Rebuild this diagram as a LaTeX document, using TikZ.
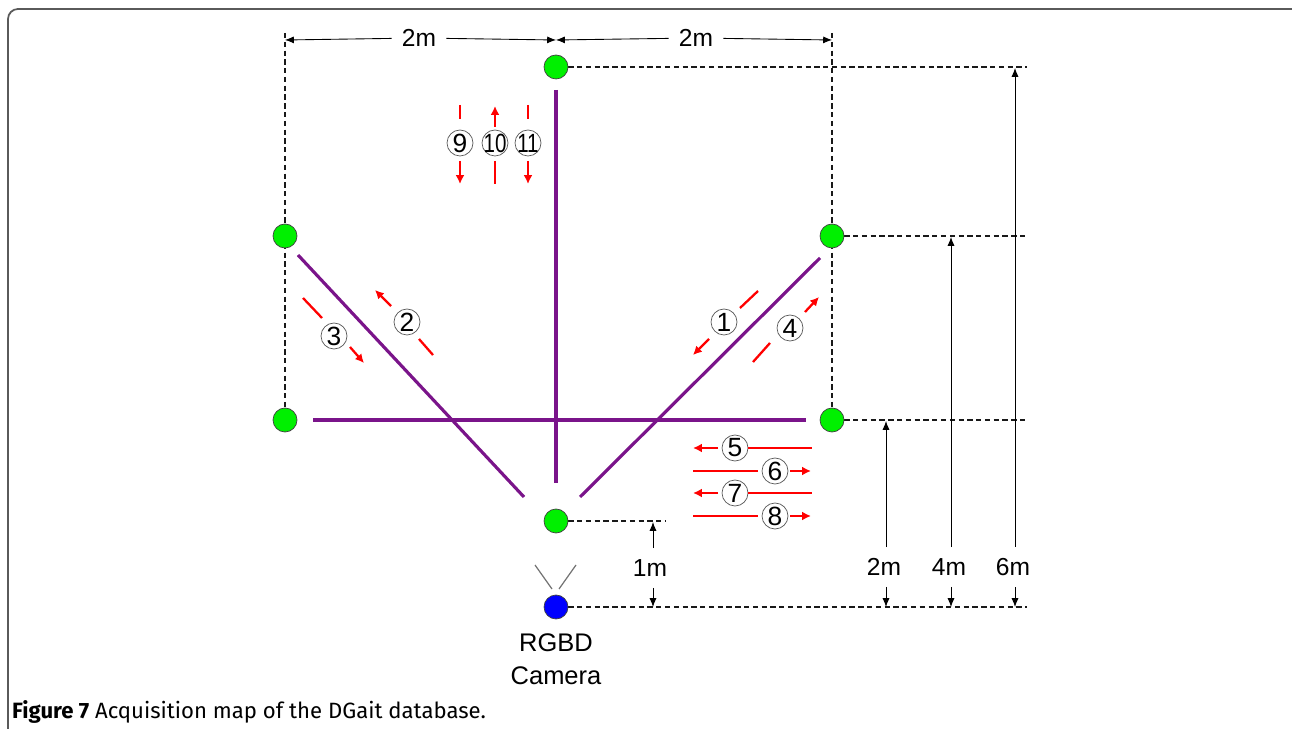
\documentclass[tikz,border=0pt]{standalone}
\usepackage{fontspec}
\setmainfont{Liberation Sans}
\newfontfamily\capfont{Fira Sans}
\usetikzlibrary{arrows.meta,positioning,backgrounds}

\definecolor{spotgreen}{RGB}{0,240,0}
\definecolor{pathpurple}{RGB}{122,20,138}
\definecolor{framegray}{RGB}{90,90,90}

\begin{document}
\begin{tikzpicture}[x=0.02cm,y=-0.02cm]

\pgfdeclarelayer{background}
\pgfsetlayers{background,main}

\tikzstyle{spot} = [circle, draw=black!75, fill=spotgreen, minimum size=0.48cm, inner sep=0pt]
\tikzstyle{walkline} = [draw=pathpurple, line width=1.8pt]
\tikzstyle{guide} = [draw=black!90, line width=0.7pt, dash pattern=on 3pt off 2pt]
\tikzstyle{dim} = [black, line width=0.5pt, -{Latex[length=5pt,width=4pt]}]
\tikzstyle{dimtext} = [font=\fontsize{14}{16}\selectfont, inner xsep=0.2cm, inner ysep=0.22cm]
\tikzstyle{num} = [circle, draw=black!65, fill=white, minimum size=0.52cm, inner sep=0pt, font=\fontsize{15}{15}\selectfont]
\tikzstyle{walk} = [red, line width=1.3pt]
\tikzstyle{walkarrow} = [red, line width=1.3pt, -{Latex[length=5pt,width=5pt]}]

\useasboundingbox (0,0) rectangle (1292,729);

%Frame
\draw[framegray, line width=1pt, rounded corners=0.2cm] (8,740) -- (8,9) -- (1300,9);

%Points of the walk map

\node (top) [spot] at (556,67) {};
\node (left_mid) [spot] at (285,236) {};
\node (right_mid) [spot] at (832,236) {};
\node (left_low) [spot] at (285,420) {};
\node (right_low) [spot] at (832,420) {};
\node (near) [spot] at (556,521) {};
\node (cam) [spot, fill=blue] at (556,607) {};

\path (cam.south)+(0,40) node (cam_text) [align=center, font=\fontsize{14.5}{18.5}\selectfont] {RGBD\\Camera};

%Camera view
\draw[black!55, line width=0.7pt] (535,565) -- (552,589);
\draw[black!55, line width=0.7pt] (576,565) -- (559,589);

%Walk lines

\coordinate (vert_a) at (556,90);
\coordinate (vert_b) at (556,483);
\coordinate (hor_a) at (313,420);
\coordinate (hor_b) at (806,420);
\coordinate (diag_la) at (298,255);
\coordinate (diag_lb) at (524,497);
\coordinate (diag_ra) at (820,258);
\coordinate (diag_rb) at (580,497);

\draw[walkline] (vert_a) -- (vert_b);
\draw[walkline] (hor_a) -- (hor_b);
\draw[walkline] (diag_la) -- (diag_lb);
\draw[walkline] (diag_ra) -- (diag_rb);

%Walks 9, 10, 11: top

\node (w9) [num] at (460,143) {9};
\node (w10) [num] at (495,143) {\makebox[0pt]{\scalebox{0.78}[1]{10}}};
\node (w11) [num] at (528,143) {\makebox[0pt]{\scalebox{0.78}[1]{11}}};

\draw[walk] (w9)+(0,-38) -- +(0,-24);
\draw[walkarrow] (w9)+(0,18) -- +(0,41);
\draw[walkarrow] (w10)+(0,-16) -- +(0,-37);
\draw[walk] (w10)+(0,18) -- +(0,41);
\draw[walk] (w11)+(0,-38) -- +(0,-24);
\draw[walkarrow] (w11)+(0,18) -- +(0,41);

%Walks 2, 3: left diagonal

\node (w2) [num] at (407,322) {2};
\node (w3) [num] at (334,336) {3};

\draw[walkarrow] (w2)+(-16,-16) -- +(-32,-32);
\draw[walk] (w2)+(12,17) -- +(26,33);
\draw[walk] (w3)+(-31,-38) -- +(-12,-18);
\draw[walkarrow] (w3)+(16,11) -- +(30,27);

%Walks 1, 4: right diagonal

\node (w1) [num] at (724,322) {1};
\node (w4) [num] at (790,328) {4};

\draw[walk] (w1)+(16,-14) -- +(34,-31);
\draw[walkarrow] (w1)+(-15,17) -- +(-31,33);
\draw[walkarrow] (w4)+(15,-16) -- +(29,-31);
\draw[walk] (w4)+(-37,34) -- +(-20,15);

%Walks 5 to 8: horizontal

\node (w5) [num] at (735,448) {5};
\node (w6) [num] at (775,471) {6};
\node (w7) [num] at (735,493) {7};
\node (w8) [num] at (775,516) {8};

\draw[walkarrow] (w5)+(-17,0) -- +(-42,0);
\draw[walk] (w5)+(13,0) -- +(77,0);
\draw[walk] (w6)+(-82,0) -- +(-17,0);
\draw[walkarrow] (w6)+(15,0) -- +(36,0);
\draw[walkarrow] (w7)+(-17,0) -- +(-42,0);
\draw[walk] (w7)+(13,0) -- +(77,0);
\draw[walk] (w8)+(-82,0) -- +(-17,0);
\draw[walkarrow] (w8)+(15,0) -- +(36,0);

%Dimensions: top

\coordinate (dim_l) at (285,40);
\coordinate (dim_m) at (556,40);
\coordinate (dim_r) at (832,40);

\node (top_text_l) [dimtext] at (419,38) {2m};
\node (top_text_r) [dimtext] at (696,38) {2m};

\draw[dim] (top_text_l) -- (dim_l);
\draw[dim] (top_text_l) -- (dim_m);
\draw[dim] (top_text_r) -- (dim_m);
\draw[dim] (top_text_r) -- (dim_r);

%Dimensions: right

\coordinate (lvl1) at (653,522);
\coordinate (base1) at (653,607);
\coordinate (lvl2) at (886,421);
\coordinate (base2) at (886,607);
\coordinate (lvl4) at (951,237);
\coordinate (base4) at (951,607);
\coordinate (lvl6) at (1015,68);
\coordinate (base6) at (1015,607);

\node (text1) [dimtext] at (650,568) {1m};
\node (text2) [dimtext] at (884,567) {2m};
\node (text4) [dimtext] at (949,567) {4m};
\node (text6) [dimtext] at (1013,567) {6m};

\draw[dim] (text1.north -| lvl1) -- (lvl1);
\draw[dim] (text1.south -| base1) -- (base1);
\draw[dim] (text2.north -| lvl2) -- (lvl2);
\draw[dim] (text2.south -| base2) -- (base2);
\draw[dim] (text4.north -| lvl4) -- (lvl4);
\draw[dim] (text4.south -| base4) -- (base4);
\draw[dim] (text6.north -| lvl6) -- (lvl6);
\draw[dim] (text6.south -| base6) -- (base6);

%Caption

\node (caption) [anchor=west, font=\capfont\fontsize{12.6}{15}\selectfont] at (6,712) {\textbf{Figure 7} Acquisition map of the DGait database.};

\begin{pgfonlayer}{background}

\draw[guide] (285,33) -- (left_low);
\draw[guide] (832,33) -- (right_low);
\draw[guide] (top.east) -- ++(459,0);
\draw[guide] (right_mid.east) -- ++(183,0);
\draw[guide] (right_low.east) -- ++(183,0);
\draw[guide] (near.east) -- ++(97,0);
\draw[guide] (cam.east) -- ++(459,0);

\end{pgfonlayer}

\end{tikzpicture}
\end{document}
